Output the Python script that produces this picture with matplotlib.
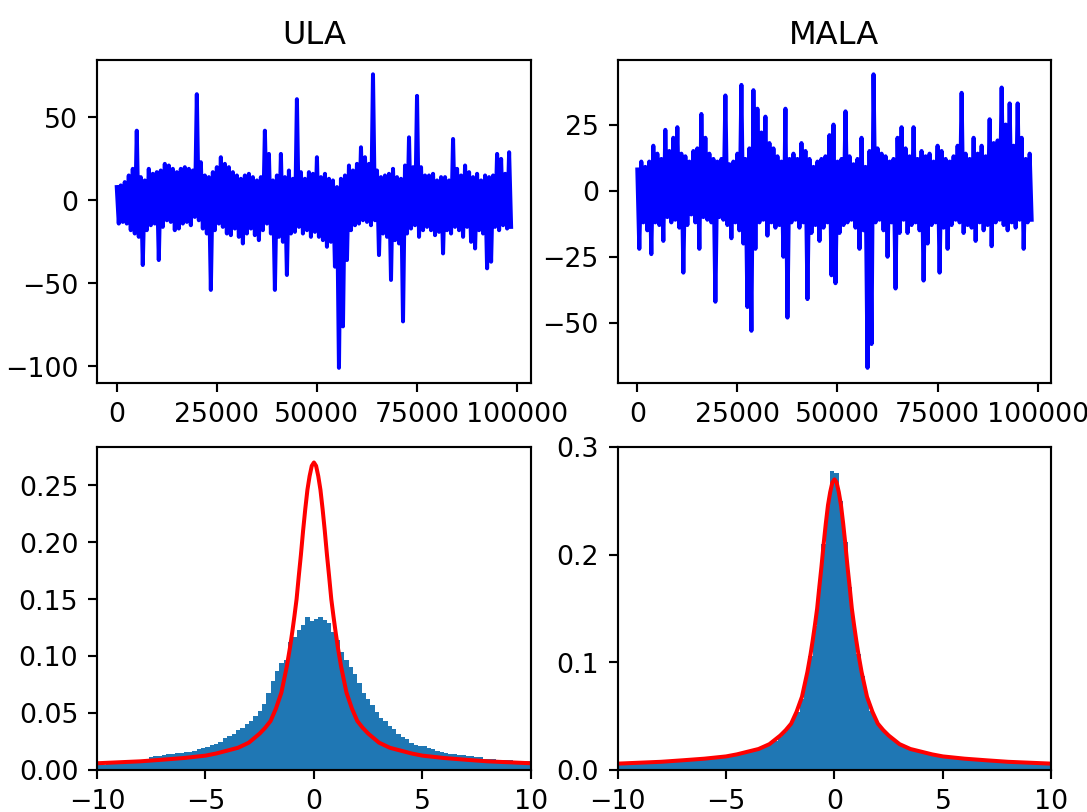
#   ULA vs MALA: trace plots (oben) und histogramme mit zieldichte (unten)

import numpy as np
from matplotlib import pyplot as plt

#   trace: pro 1000 iterationen ein oberer und ein unterer ausschlag
ula_hi = [8, 9, 11, 15, 19, 42, 14, 12, 19, 16,
          17, 18, 22, 21, 19, 17, 19, 20, 19, 18,
          64, 23, 15, 14, 17, 20, 26, 22, 20, 17,
          15, 13, 15, 16, 14, 12, 14, 42, 28, 12,
          15, 28, 14, 18, 13, 61, 17, 13, 17, 16,
          26, 14, 16, 13, 12, 8, 13, 15, 21, 18,
          22, 32, 26, 22, 76, 18, 14, 15, 16, 19,
          14, 13, 21, 38, 20, 63, 20, 15, 15, 16,
          12, 14, 14, 12, 37, 19, 15, 21, 17, 14,
          16, 12, 15, 14, 15, 28, 25, 16, 29]
ula_lo = [-14, -13, -14, -18, -20, -22, -39, -18, -15, -14,
          -36, -16, -12, -13, -18, -17, -14, -13, -15, -10,
          -12, -17, -20, -54, -18, -14, -16, -20, -21, -17,
          -22, -26, -20, -17, -21, -24, -18, -14, -20, -54,
          -22, -25, -45, -20, -19, -16, -20, -18, -22, -19,
          -22, -24, -28, -25, -40, -101, -76, -36, -18, -15,
          -14, -12, -13, -15, -12, -33, -20, -22, -48, -24,
          -26, -73, -20, -17, -15, -22, -18, -16, -18, -21,
          -19, -32, -18, -20, -16, -18, -22, -16, -25, -29,
          -18, -20, -41, -37, -16, -18, -15, -17, -16]

mala_hi = [8, 11, 9, 11, 17, 14, 12, 23, 15, 20,
           24, 14, 13, 11, 15, 16, 29, 20, 14, 12,
           11, 12, 36, 10, 11, 14, 40, 12, 16, 38,
           31, 22, 28, 18, 16, 13, 11, 31, 12, 14,
           12, 18, 15, 12, 9, 11, 12, 13, 21, 25,
           11, 12, 30, 13, 10, 12, 20, 9, 15, 44,
           16, 14, 13, 11, 12, 20, 24, 16, 13, 24,
           12, 15, 13, 14, 11, 17, 15, 12, 11, 13,
           17, 37, 14, 12, 20, 14, 17, 13, 27, 18,
           19, 39, 25, 33, 17, 33, 20, 12, 14]
mala_lo = [-22, -12, -15, -24, -12, -13, -19, -10, -12, -11,
           -14, -31, -13, -9, -12, -22, -10, -11, -12, -42,
           -10, -11, -13, -18, -12, -15, -20, -44, -53, -22,
           -12, -11, -17, -12, -14, -13, -25, -48, -12, -11,
           -14, -12, -41, -16, -13, -19, -14, -12, -32, -35,
           -16, -13, -12, -11, -14, -22, -15, -67, -58, -12,
           -11, -15, -25, -12, -37, -16, -11, -16, -13, -12,
           -15, -34, -20, -13, -12, -31, -14, -22, -13, -11,
           -12, -16, -13, -14, -19, -12, -15, -13, -21, -12,
           -11, -13, -15, -12, -14, -11, -22, -12, -11]

#   histogramm: dichte pro bin (breite 0.2, von -10 bis 10)
ula_dens = [0.004, 0.004, 0.005, 0.006, 0.006, 0.007, 0.007, 0.008, 0.008, 0.009,
            0.009, 0.010, 0.011, 0.012, 0.012, 0.013, 0.014, 0.014, 0.015, 0.015,
            0.016, 0.016, 0.017, 0.018, 0.019, 0.020, 0.022, 0.023, 0.025, 0.028,
            0.030, 0.032, 0.035, 0.037, 0.040, 0.043, 0.047, 0.052, 0.058, 0.068,
            0.078, 0.087, 0.094, 0.097, 0.112, 0.117, 0.123, 0.127, 0.134, 0.131,
            0.133, 0.134, 0.132, 0.129, 0.121, 0.114, 0.104, 0.097, 0.090, 0.084,
            0.076, 0.068, 0.062, 0.057, 0.051, 0.046, 0.043, 0.039, 0.036, 0.032,
            0.029, 0.027, 0.024, 0.022, 0.021, 0.021, 0.019, 0.018, 0.017, 0.016,
            0.015, 0.014, 0.014, 0.013, 0.013, 0.012, 0.012, 0.011, 0.011, 0.010,
            0.010, 0.010, 0.009, 0.009, 0.009, 0.009, 0.008, 0.008, 0.008, 0.008]
mala_dens = [0.006, 0.006, 0.006, 0.0065, 0.0065, 0.007, 0.007, 0.007, 0.0075, 0.0075,
             0.008, 0.008, 0.0085, 0.0085, 0.009, 0.009, 0.0095, 0.0095, 0.010, 0.0105,
             0.011, 0.0115, 0.012, 0.0125, 0.013, 0.014, 0.0145, 0.015, 0.016, 0.017,
             0.0175, 0.019, 0.020, 0.021, 0.023, 0.025, 0.027, 0.031, 0.035, 0.040,
             0.046, 0.054, 0.066, 0.085, 0.106, 0.134, 0.168, 0.210, 0.245, 0.278,
             0.276, 0.250, 0.212, 0.170, 0.136, 0.108, 0.087, 0.068, 0.055, 0.047,
             0.041, 0.036, 0.032, 0.028, 0.025, 0.023, 0.021, 0.0195, 0.019, 0.0175,
             0.017, 0.016, 0.015, 0.0145, 0.014, 0.013, 0.0125, 0.012, 0.0115, 0.011,
             0.0105, 0.010, 0.0098, 0.0095, 0.009, 0.009, 0.0085, 0.0085, 0.008, 0.008,
             0.0075, 0.0075, 0.007, 0.007, 0.007, 0.0065, 0.0065, 0.006, 0.006, 0.006]

#   zieldichte (rote kurve)
pdf_x = [-10, -8, -7, -6, -5, -4.5, -4, -3.5, -3, -2.5, -2.25, -2, -1.75, -1.5, -1.25, -1.1, -1,
         -0.9, -0.8, -0.7, -0.6, -0.5, -0.4, -0.3, -0.2, -0.1,
         0, 0.1, 0.2, 0.3, 0.4, 0.5, 0.6, 0.7, 0.8, 0.9,
         1, 1.1, 1.25, 1.5, 1.75, 2, 2.25, 2.5, 3, 3.5, 4, 4.5, 5, 6, 7, 8, 10]
pdf_y = [0.0059, 0.0076, 0.009, 0.0105, 0.0126, 0.0145, 0.017, 0.0195, 0.024, 0.032, 0.037, 0.043,
         0.054, 0.068, 0.091, 0.108, 0.121,
         0.135, 0.150, 0.170, 0.189, 0.210, 0.229, 0.246, 0.258, 0.267,
         0.270, 0.267, 0.258, 0.246, 0.229, 0.210, 0.189, 0.170, 0.150, 0.135,
         0.121, 0.108, 0.091, 0.068, 0.054, 0.043, 0.037, 0.032, 0.024, 0.0195, 0.017, 0.0145,
         0.0126, 0.0105, 0.009, 0.0076, 0.0059]


def trace_xy(hi, lo):
    xs, ys = [], []
    for k in range(len(hi)):
        xs += [k * 1000, k * 1000 + 500]
        ys += [hi[k], lo[k]]
    return xs, ys


edges = np.linspace(-10, 10, 101)
centers = (edges[:-1] + edges[1:]) / 2

#   standard-figur (6.4x4.8) bei hoher dpi, ausschnitt um die achsen
dpi = 192.5
fig, axs = plt.subplots(2, 2, figsize=(1087.4 / dpi, 812.4 / dpi), dpi=dpi)
plt.subplots_adjust(left=97 / 1087, right=1051 / 1087, top=1 - 60 / 812, bottom=1 - 770 / 812,
                    wspace=0.2, hspace=0.2)

#   trace plots
x, y = trace_xy(ula_hi, ula_lo)
axs[0, 0].plot(x, y, color='b')
axs[0, 0].set_title('ULA')
x, y = trace_xy(mala_hi, mala_lo)
axs[0, 1].plot(x, y, color='b')
axs[0, 1].set_title('MALA')

#   histogramme mit zieldichte
axs[1, 0].hist(centers, bins=edges, weights=ula_dens)
axs[1, 0].plot(pdf_x, pdf_y, color='r')
axs[1, 0].set_xlim(-10, 10)

axs[1, 1].hist(centers, bins=edges, weights=mala_dens)
axs[1, 1].plot(pdf_x, pdf_y, color='r')
axs[1, 1].set_xlim(-10, 10)
axs[1, 1].set_ylim(0, 0.3)
axs[1, 1].set_yticks([0, 0.1, 0.2, 0.3])

plt.savefig('out.png', dpi=dpi)
